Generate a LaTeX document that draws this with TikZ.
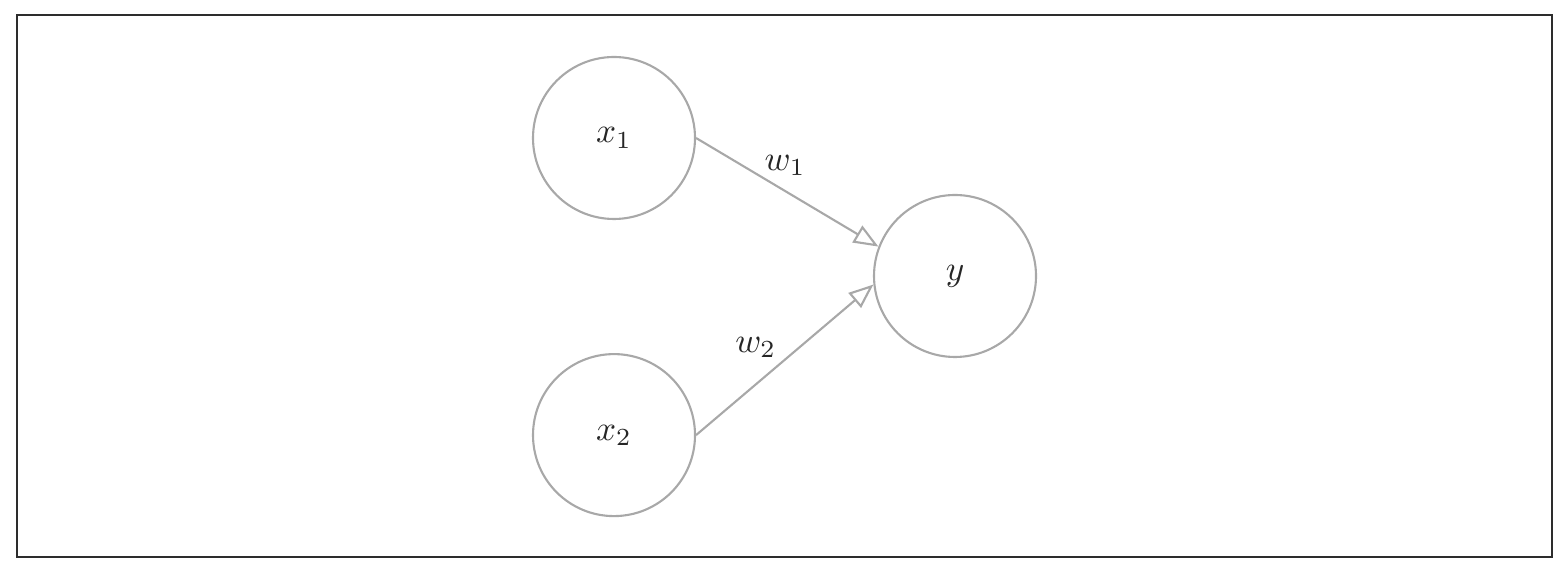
\documentclass[tikz,border=0pt]{standalone}
\usepackage{amsmath,amssymb}
\usepackage{xcolor}
\usepackage{tikz}
\usetikzlibrary{arrows.meta, positioning}
\definecolor{linegray}{RGB}{168,168,168}
\definecolor{framegray}{RGB}{45,45,45}
\tikzstyle{neuron} = [circle, minimum size=1.62cm, inner sep=0pt, draw=linegray, line width=0.6pt, text=black!85]
\tikzstyle{arrow} = [draw=linegray, line width=0.6pt, -{Triangle[open, length=7pt, width=5.5pt]}]

\begin{document}
\begin{tikzpicture}
    \useasboundingbox (0,0) rectangle (15.62,-5.61);
    \draw [framegray, line width=0.6pt] (0.17,-0.15) rectangle (15.52,-5.57);

    \node (x1) [neuron] at (6.14,-1.38) {$x_1$};
    \node (x2) [neuron, below=1.33cm of x1] {$x_2$};
    \node (y) [neuron] at (9.55,-2.76) {$y$};

    \draw [arrow] (x1.east) -- node[above, text=black!85, xshift=-0.6pt, yshift=1.2pt] {$w_1$} (y.159);
    \draw [arrow] (x2.east) -- node[above left, text=black!85, xshift=1.2pt, yshift=-3pt] {$w_2$} (y.186);
\end{tikzpicture}
\end{document}
